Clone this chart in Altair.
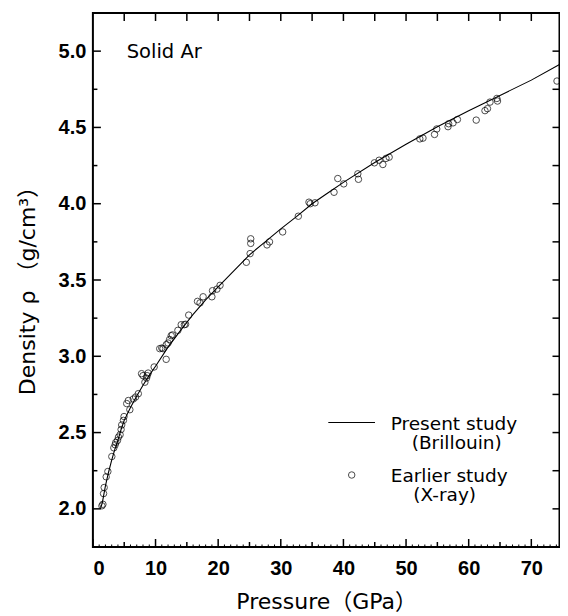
import altair as alt
import pandas as pd

# ---- data ----
curve_p = [1.2, 1.5, 2, 2.5, 3, 3.5, 4, 4.5, 5, 6, 7, 8, 9, 10, 12, 14, 16, 18, 20,
           22.5, 25, 27.5, 30, 32.5, 35, 37.5, 40, 45, 50, 55, 60, 65, 70, 74.5]
curve_rho = [2.00, 2.04, 2.15, 2.24, 2.32, 2.39, 2.45, 2.52, 2.58, 2.665, 2.74, 2.81, 2.875,
             2.935, 3.06, 3.17, 3.275, 3.37, 3.455, 3.56, 3.665, 3.75, 3.835, 3.915, 4.0,
             4.07, 4.14, 4.27, 4.39, 4.505, 4.61, 4.71, 4.81, 4.913]

xray_p = [1.44, 1.6, 1.7, 1.8, 2.12, 2.39, 3.02, 3.34, 3.55, 3.65, 3.92, 4.08, 4.34, 4.5,
          4.6, 4.87, 4.97, 5.4, 5.66, 5.9, 6.45, 6.82, 7.25, 7.77, 8.0, 8.3, 8.56, 8.67,
          8.83, 9.78, 10.67, 11.0, 11.2, 11.7, 11.72, 12.0, 12.25, 12.5, 12.7, 13.57, 14.1,
          14.6, 14.8, 15.3, 16.7, 17.1, 17.6, 19.0, 19.1, 19.8, 20.3, 24.5, 25.1, 25.2,
          25.2, 27.8, 28.2, 30.3, 32.8, 34.5, 34.7, 35.46, 38.5, 39.1, 40.05, 42.3, 42.4,
          44.95, 45.7, 46.3, 46.8, 47.3, 52.2, 52.7, 54.55, 54.9, 56.7, 56.8, 57.5, 58.2,
          61.2, 62.6, 63.0, 63.4, 64.5, 64.6, 74.1]
xray_rho = [2.02, 2.03, 2.10, 2.14, 2.21, 2.245, 2.343, 2.40, 2.42, 2.435, 2.448, 2.47,
            2.486, 2.52, 2.55, 2.58, 2.605, 2.69, 2.71, 2.65, 2.72, 2.733, 2.755, 2.886,
            2.873, 2.83, 2.857, 2.873, 2.89, 2.93, 3.05, 3.054, 3.05, 2.98, 3.076, 3.087,
            3.11, 3.135, 3.14, 3.17, 3.207, 3.207, 3.21, 3.27, 3.36, 3.35, 3.39, 3.39,
            3.43, 3.44, 3.465, 3.616, 3.673, 3.77, 3.74, 3.73, 3.75, 3.815, 3.918, 4.01,
            4.0, 4.006, 4.075, 4.165, 4.13, 4.196, 4.16, 4.268, 4.285, 4.257, 4.297, 4.305,
            4.425, 4.43, 4.454, 4.49, 4.505, 4.524, 4.53, 4.552, 4.548, 4.61, 4.623, 4.666,
            4.69, 4.673, 4.804]

x_major = [0, 10, 20, 30, 40, 50, 60, 70]
x_mid = [5, 15, 25, 35, 45, 55, 65]
x_minor = [v for v in range(1, 75) if v % 5 != 0]
x_top = [5, 10, 15, 20, 25, 30, 35, 40, 45, 50, 55, 60, 65, 70]
y_major = [2.0, 2.5, 3.0, 3.5, 4.0, 4.5, 5.0]
y_minor = [2.25, 2.75, 3.25, 3.75, 4.25, 4.75]
legend_labels = ["Present study", "(Brillouin)", "Earlier study", "(X-ray)"]
panel_label = "Solid Ar"
x_title = "Pressure（GPa）"
y_title = "Density ρ （g/cm³）"

PAD_L = 84.9
W, H = 466.6, 534
X0 = 8 + PAD_L  # page x of the plot's left edge
LABEL_FONT = "Liberation Sans, Arial, sans-serif"
TEXT_FONT = "DejaVu Sans, Noto Sans CJK JP, sans-serif"

xs = alt.Scale(domain=[0, 74.5], nice=False, zero=False)
ys = alt.Scale(domain=[1.75, 5.25], nice=False, zero=False)

xaxis = alt.Axis(
    values=x_major, format="d", title=x_title, grid=False, ticks=False,
    domain=False, labelFontSize=20, labelFontWeight="bold", labelFont=LABEL_FONT,
    labelPadding=11, labelColor="black", titleFont=TEXT_FONT, titleFontSize=22,
    titleFontWeight="normal", titleColor="black", titleY=61,
    titleBaseline="alphabetic")
yaxis = alt.Axis(
    values=y_major, format=".1f", title=y_title, grid=False,
    ticks=False, domain=False, labelFontSize=20, labelFontWeight="bold",
    labelFont=LABEL_FONT, labelPadding=7, labelColor="black", titleFont=TEXT_FONT,
    titleFontSize=22, titleFontWeight="normal", titleColor="black",
    titleAngle=270, titleX=27 - X0, titleY=H / 2 + 5, titleAlign="center",
    titleBaseline="middle")

curve_df = pd.DataFrame({"P": curve_p, "rho": curve_rho})
xray_df = pd.DataFrame({"P": xray_p, "rho": xray_rho})

line = alt.Chart(curve_df).mark_line(color="black", strokeWidth=1.1, clip=True).encode(
    x=alt.X("P:Q", scale=xs, axis=xaxis),
    y=alt.Y("rho:Q", scale=ys, axis=yaxis),
)

pts = alt.Chart(xray_df).mark_point(shape="circle", filled=False, color="black",
                                     size=42, strokeWidth=1, clip=True).encode(
    x=alt.X("P:Q", scale=xs, axis=xaxis), y=alt.Y("rho:Q", scale=ys, axis=yaxis))


def xticks(vals, y0, y1, w=1.5):
    return alt.Chart(pd.DataFrame({"P": vals})).mark_rule(color="black", strokeWidth=w).encode(
        x=alt.X("P:Q", scale=xs, axis=xaxis), y=alt.value(y0), y2=alt.value(y1))


def yticks(vals, x0, x1, w=1.5):
    return alt.Chart(pd.DataFrame({"rho": vals})).mark_rule(color="black", strokeWidth=w).encode(
        y=alt.Y("rho:Q", scale=ys, axis=yaxis), x=alt.value(x0), x2=alt.value(x1))


ticks = [
    xticks(x_major, H, H - 8),
    xticks(x_mid, H, H - 5),
    xticks(x_minor, H, H - 2.5, 1),
    xticks(x_top, 0, 8),
    yticks(y_major, 0, 8),
    yticks(y_minor, 0, 4.5),
    yticks(y_major + y_minor, W, W - 7),
]


def label(txt, x_page, y, size=18.5):
    return alt.Chart(pd.DataFrame({"s": [txt]})).mark_text(
        font=TEXT_FONT, fontSize=size, align="left", baseline="middle", color="black").encode(
        x=alt.value(x_page - X0), y=alt.value(y), text="s:N")


leg_line = alt.Chart(pd.DataFrame({"s": [legend_labels[0]]})).mark_rule(
    color="black", strokeWidth=1.1).encode(x=alt.value(328.3 - X0), x2=alt.value(375 - X0),
                                          y=alt.value(409.5))
leg_pt = alt.Chart(pd.DataFrame({"s": [legend_labels[2]]})).mark_point(
    shape="circle", filled=False, color="black", size=42, strokeWidth=1).encode(
    x=alt.value(351.7 - X0), y=alt.value(462))

texts = [
    label(panel_label, 126.7, 38.5, 19.5),
    label(legend_labels[0], 390.7, 410.5),
    label(legend_labels[1], 411.7, 430),
    label(legend_labels[2], 390.7, 462.5),
    label(legend_labels[3], 413.3, 482),
]

chart = alt.layer(line, pts, *ticks, leg_line, leg_pt, *texts).properties(
    width=W, height=H,
    padding={"left": PAD_L, "top": 5, "right": 0.5, "bottom": 72},
    autosize=alt.AutoSizeParams(type="none"),
).configure_view(stroke="black", strokeWidth=2)

chart.save("out.html", embed_options={"renderer": "svg", "actions": False})
